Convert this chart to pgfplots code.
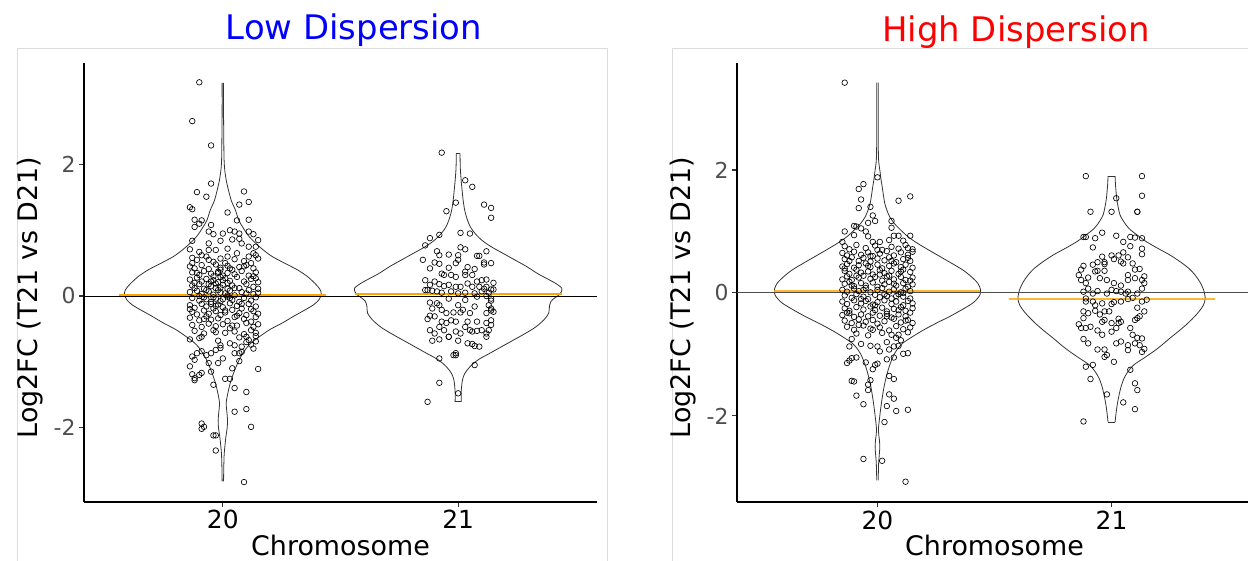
\documentclass[border=0pt]{standalone}
\usepackage{fontspec}
\setmainfont{DejaVu Sans}
\usepackage{pgfplots}
\usepackage{pgfplotstable}
\pgfplotsset{compat=1.18}

\definecolor{orng}{RGB}{255,165,0}
\definecolor{vline}{RGB}{51,51,51}
\definecolor{tickgray}{RGB}{77,77,77}
\definecolor{panelgray}{RGB}{220,220,220}

% violin outlines: y, half width (category units)
\pgfplotstableread{
y w
3.24 0.003
2.80 0.003
2.40 0.004
2.10 0.005
1.92 0.008
1.75 0.015
1.61 0.024
1.45 0.036
1.31 0.053
1.15 0.068
1.05 0.084
0.92 0.108
0.80 0.140
0.70 0.172
0.60 0.210
0.50 0.262
0.40 0.316
0.30 0.358
0.19 0.392
0.10 0.413
0.03 0.418
-0.06 0.408
-0.14 0.383
-0.21 0.350
-0.31 0.300
-0.41 0.253
-0.51 0.200
-0.62 0.155
-0.70 0.125
-0.77 0.105
-0.90 0.080
-1.02 0.063
-1.18 0.045
-1.33 0.031
-1.50 0.020
-1.63 0.014
-1.76 0.017
-1.89 0.020
-2.02 0.018
-2.14 0.013
-2.39 0.006
-2.60 0.004
-2.82 0.003
}\vlowA
\pgfplotstableread{
y w
2.17 0.008
1.95 0.009
1.75 0.013
1.60 0.017
1.46 0.021
1.30 0.028
1.16 0.039
1.05 0.052
0.95 0.072
0.85 0.100
0.75 0.140
0.65 0.190
0.55 0.240
0.45 0.290
0.34 0.338
0.25 0.385
0.19 0.415
0.12 0.440
0.06 0.438
0.015 0.428
-0.03 0.410
-0.08 0.395
-0.15 0.388
-0.26 0.385
-0.36 0.365
-0.47 0.330
-0.57 0.285
-0.67 0.235
-0.77 0.185
-0.87 0.135
-0.97 0.085
-1.08 0.049
-1.18 0.028
-1.28 0.018
-1.45 0.013
-1.61 0.013
}\vlowB
\pgfplotstableread{
y w
3.42 0.003
3.00 0.003
2.60 0.003
2.25 0.004
2.11 0.006
2.00 0.010
1.85 0.015
1.73 0.020
1.60 0.025
1.46 0.031
1.35 0.040
1.24 0.052
1.13 0.072
1.02 0.100
0.91 0.132
0.81 0.170
0.70 0.218
0.59 0.268
0.48 0.318
0.37 0.366
0.26 0.402
0.16 0.428
0.06 0.440
-0.03 0.438
-0.10 0.425
-0.17 0.405
-0.27 0.362
-0.38 0.310
-0.49 0.252
-0.60 0.198
-0.71 0.150
-0.82 0.107
-0.93 0.082
-1.04 0.066
-1.20 0.050
-1.36 0.038
-1.55 0.027
-1.79 0.017
-2.00 0.010
-2.23 0.004
-2.38 0.008
-2.50 0.010
-2.62 0.008
-2.77 0.005
-3.05 0.003
}\vhighA
\pgfplotstableread{
y w
1.90 0.015
1.75 0.017
1.54 0.022
1.40 0.028
1.27 0.036
1.16 0.052
1.05 0.074
0.94 0.110
0.83 0.150
0.72 0.200
0.62 0.248
0.51 0.292
0.40 0.330
0.29 0.357
0.18 0.377
0.05 0.393
-0.09 0.400
-0.20 0.392
-0.30 0.374
-0.41 0.348
-0.52 0.318
-0.63 0.284
-0.74 0.248
-0.85 0.214
-0.95 0.180
-1.06 0.138
-1.17 0.095
-1.28 0.070
-1.39 0.053
-1.52 0.041
-1.66 0.032
-1.80 0.025
-1.93 0.020
-2.10 0.015
}\vhighB

\pgfplotsset{
  panel/.style={
    scale only axis, anchor=south west,
    height=439bp,
    axis x line*=bottom, axis y line*=left,
    axis line style={black, line width=1.6bp},
    xtick={20,21}, xticklabels={20,21},
    ytick={-2,0,2}, yticklabels={-2,0,2},
    tick align=outside, major tick length=5bp,
    tick style={color=vline, line width=1.1bp},
    xticklabel style={font=\fontsize{25}{25}\selectfont, text=black},
    yticklabel style={font=\fontsize{22}{22}\selectfont, text=tickgray},
    xlabel={Chromosome}, ylabel={Log2FC (T21 vs D21)},
    label style={font=\fontsize{27}{27}\selectfont},
    xlabel style={at={(axis description cs:0.5,-0.098)}, anchor=center},
    ylabel style={at={(axis description cs:-0.105,0.466)}, anchor=center},
  },
  violin/.style={vline, line width=0.8bp, smooth, no marks},
  pts/.style={only marks, mark=o, mark size=2.8bp, mark options={line width=0.65bp, black}},
}

\begin{document}
\begin{tikzpicture}[x=1bp,y=1bp]
\useasboundingbox (0,0) rectangle (1248,561);

% panel frames
\draw[panelgray, line width=0.8bp] (17,-5) -- (17,513) -- (607,513) -- (607,-5);
\draw[panelgray, line width=0.8bp] (672,-5) -- (672,513) -- (1260,513);

% ---------- Low dispersion ----------
\begin{axis}[panel, at={(84bp,59bp)}, width=513bp,
  xmin=19.41, xmax=21.59, ymin=-3.133, ymax=3.544]
  \addplot[violin] table[x expr=20+\thisrow{w}, y=y] {\vlowA};
  \addplot[violin] table[x expr=20-\thisrow{w}, y=y] {\vlowA};
  \addplot[violin] table[x expr=21+\thisrow{w}, y=y] {\vlowB};
  \addplot[violin] table[x expr=21-\thisrow{w}, y=y] {\vlowB};
  \addplot[vline, line width=0.8bp] coordinates {(20.987,-1.61) (21.013,-1.61)};
  \addplot[vline, line width=0.8bp] coordinates {(20.992,2.17) (21.008,2.17)};

  % chromosome 20
  \addplot[pts] coordinates {
    (19.90,3.25) (19.87,2.66) (19.95,2.29) (19.95,1.71) (19.89,1.58) (19.93,1.51) (20.09,1.59) (20.07,1.39)
    (20.11,1.43) (19.86,1.35) (19.87,1.32) (20.02,1.27) (20.11,1.16) (20.06,1.15) (19.88,1.16) (19.91,1.15)
    (19.88,1.05) (19.90,1.10) (19.95,1.08) (19.94,0.98) (19.96,0.94) (20.03,1.00) (20.05,0.98) (20.07,0.95)
    (20.11,0.98) (20.13,0.94) (20.15,0.85) (20.00,0.95) (19.87,0.84) (19.94,0.80) (19.99,0.84) (20.04,0.86)
    (20.07,0.87) (20.14,0.75) (19.86,0.71) (19.90,0.67) (19.94,0.70) (19.97,0.70) (20.02,0.72) (20.06,0.65)
    (20.08,0.80) (20.11,0.75) (20.13,0.65) (20.11,0.60) (20.14,0.62)
    (19.87,0.58) (19.89,0.55) (19.93,0.60) (19.96,0.52) (19.99,0.57) (20.01,0.50) (20.05,0.56) (20.09,0.53)
    (20.12,0.50) (20.15,0.57) (19.86,0.45) (19.88,0.42) (19.91,0.47) (19.94,0.41) (19.97,0.48) (19.99,0.43)
    (20.02,0.46) (20.04,0.40) (20.07,0.44) (20.10,0.47) (20.13,0.42) (19.87,0.36) (19.90,0.32) (19.92,0.38)
    (19.95,0.34) (19.98,0.37) (20.00,0.31) (20.02,0.35) (20.05,0.33) (20.08,0.38) (20.11,0.31) (20.14,0.36)
    (19.96,0.30) (19.86,0.25) (19.89,0.28) (19.91,0.22) (19.93,0.26) (19.96,0.24) (19.98,0.21) (20.01,0.27)
    (20.03,0.23) (20.06,0.29) (20.09,0.22) (20.12,0.26) (20.15,0.21) (19.99,0.29) (19.87,0.16) (19.88,0.12)
    (19.90,0.18) (19.92,0.11) (19.95,0.15) (19.97,0.19) (19.99,0.13) (20.00,0.17) (20.02,0.11) (20.04,0.16)
    (20.07,0.12) (20.10,0.18) (20.13,0.14) (20.15,0.11) (19.86,0.06) (19.89,0.08) (19.91,0.03) (19.94,0.07)
    (19.96,0.02) (19.98,0.09) (20.01,0.04) (20.03,0.08) (20.05,0.01) (20.08,0.06) (20.11,0.09) (20.13,0.03)
    (20.15,0.05) (19.87,-0.03) (19.90,-0.07) (19.92,-0.02) (19.95,-0.09) (19.97,-0.04) (19.99,-0.08) (20.02,-0.01)
    (20.04,-0.06) (20.07,-0.09) (20.09,-0.03) (20.12,-0.07) (20.14,-0.02) (19.86,-0.14) (19.88,-0.18) (19.91,-0.12)
    (19.93,-0.16) (19.96,-0.19) (19.98,-0.13) (20.00,-0.17) (20.03,-0.11) (20.06,-0.15) (20.08,-0.19) (20.11,-0.12)
    (20.14,-0.16) (19.87,-0.24) (19.89,-0.28) (19.92,-0.22) (19.94,-0.27) (19.97,-0.23) (19.99,-0.29) (20.01,-0.25)
    (20.04,-0.21) (20.07,-0.26) (20.10,-0.29) (20.13,-0.23) (20.15,-0.27) (19.86,-0.33) (19.90,-0.37) (19.93,-0.31)
    (19.95,-0.36) (19.98,-0.34) (20.02,-0.38) (20.05,-0.32) (20.09,-0.35) (20.12,-0.39) (20.14,-0.32) (19.87,-0.44)
    (19.91,-0.47) (19.94,-0.42) (19.97,-0.46) (20.00,-0.43) (20.03,-0.49) (20.06,-0.45) (20.10,-0.41) (20.13,-0.47)
    (20.15,-0.43) (19.88,-0.53) (19.92,-0.57) (19.96,-0.52) (20.01,-0.56) (20.05,-0.54) (20.09,-0.58) (20.12,-0.52)
    (20.14,-0.56) (19.90,-0.64) (19.98,-0.68) (20.07,-0.63) (20.11,-0.67) (20.14,-0.61) (20.10,-0.70)
    (19.99,0.05) (20.00,-0.05) (19.97,0.12) (20.02,0.20) (19.95,-0.12) (20.01,-0.22) (19.98,0.35) (20.03,0.42)
    (19.94,0.18) (19.96,-0.02) (20.02,0.01) (19.93,0.09)
    (19.88,0.20) (19.90,0.00) (19.93,-0.05) (19.95,0.22) (19.97,-0.15) (20.00,0.24) (20.03,-0.03) (20.05,0.12)
    (20.08,-0.12) (20.10,0.04) (20.12,-0.20) (20.14,0.27) (19.86,-0.20) (19.89,0.35) (19.92,-0.35) (19.99,0.40)
    (20.06,-0.30) (20.09,0.45) (19.94,0.55) (20.04,-0.45) (19.91,0.62) (20.10,-0.62) (19.97,-0.55) (20.02,0.60)
    (19.87,0.50) (20.13,0.30)
    (19.86,-0.66) (19.91,-0.62) (19.87,-0.92) (19.88,-0.97) (19.89,-0.87) (19.91,-0.84) (19.86,-1.07) (19.87,-1.19)
    (19.88,-1.28) (19.88,-1.25) (19.90,-1.20) (19.91,-1.17) (19.93,-0.90) (19.95,-0.87) (19.97,-0.82) (19.99,-0.79)
    (19.94,-1.02) (19.95,-1.15) (19.98,-1.02) (20.00,-0.95) (20.01,-1.26) (20.03,-1.26) (19.99,-0.75) (20.03,-0.72)
    (20.05,-0.75) (20.08,-0.77) (20.05,-0.87) (20.07,-0.87) (20.08,-0.85) (20.07,-0.99) (20.04,-1.10) (20.15,-1.11)
    (19.96,-1.35) (20.05,-1.40) (20.10,-1.46) (20.05,-1.76) (20.10,-1.72) (20.12,-1.99) (19.91,-1.94) (19.91,-2.02)
    (19.92,-1.99) (19.96,-2.12) (19.97,-2.12) (19.97,-2.35) (20.09,-2.83) (20.13,-0.80) (20.12,-0.74) (20.14,-0.69)
  };

  % chromosome 21
  \addplot[pts] coordinates {
    (20.93,2.18) (21.03,1.76) (21.06,1.66) (20.99,1.42) (21.11,1.39) (21.14,1.34) (21.14,1.19) (20.95,1.29)
    (20.88,0.88) (20.92,0.93) (20.86,0.77) (21.01,0.96) (21.05,0.95) (20.91,0.68) (20.92,0.62) (20.96,0.63)
    (21.01,0.74) (21.03,0.71) (21.00,0.62) (20.85,0.55) (20.90,0.51) (20.92,0.49) (20.96,0.43) (20.99,0.50)
    (21.00,0.55) (21.03,0.37) (21.04,0.44) (21.07,0.41) (21.08,0.61) (21.09,0.61) (21.12,0.68) (21.14,0.50)
    (21.11,0.51) (21.11,0.48) (20.88,0.42) (20.93,0.34) (20.94,0.32) (20.97,0.32) (20.99,0.29) (21.03,0.32)
    (21.06,0.32) (21.08,0.22) (21.10,0.24) (21.12,0.25) (21.15,0.20) (21.12,0.14) (20.86,0.24) (20.88,0.17)
    (20.90,0.22) (20.92,0.18) (20.94,0.15) (20.96,0.17) (20.99,0.14) (21.01,0.14) (21.04,0.19) (21.06,0.14)
    (21.09,0.14) (21.11,0.11) (21.14,0.10) (21.15,0.10) (20.86,0.09) (20.87,0.09) (20.89,0.08) (20.91,0.07)
    (20.93,0.05) (20.97,0.07) (21.00,0.04) (21.03,0.05) (21.07,0.04) (21.10,0.07) (21.13,0.05)
    (20.96,-0.04) (21.03,-0.06) (21.08,-0.01) (21.12,0.00) (21.14,-0.04) (21.14,-0.07) (21.13,-0.14) (21.14,-0.19)
    (20.88,-0.10) (20.89,-0.19) (20.91,-0.11) (20.92,-0.14) (20.93,-0.21) (20.95,-0.26) (20.98,-0.25) (21.00,-0.14)
    (21.02,-0.21) (21.05,-0.26) (21.07,-0.16) (21.12,-0.26) (21.15,-0.24) (20.87,-0.35) (20.88,-0.30) (20.90,-0.31)
    (20.93,-0.39) (20.95,-0.41) (20.97,-0.37) (20.99,-0.39) (21.01,-0.25) (21.04,-0.39) (21.08,-0.39) (21.12,-0.41)
    (21.14,-0.37) (21.14,-0.22) (20.88,-0.52) (20.90,-0.57) (20.92,-0.47) (20.94,-0.52) (20.96,-0.62) (20.99,-0.54)
    (21.01,-0.57) (21.03,-0.47) (21.05,-0.52) (21.06,-0.54) (21.08,-0.53) (21.10,-0.52) (21.12,-0.57) (21.14,-0.44)
    (21.13,-0.52) (20.89,-0.68) (20.92,-0.66) (20.96,-0.62) (21.00,-0.68) (21.04,-0.72) (21.06,-0.73) (21.07,-0.76)
    (21.09,-0.77) (21.12,-0.62) (20.98,-0.90) (20.99,-0.90) (20.99,-0.87) (20.92,-0.95) (21.07,-1.05) (20.92,-1.32)
    (21.00,-1.48) (20.87,-1.61)
  };

  \addplot[black, line width=0.9bp] coordinates {(19.41,0) (21.59,0)};
  \addplot[orng, line width=1.8bp] coordinates {(19.56,0.015) (20.44,0.015)};
  \addplot[orng, line width=1.8bp] coordinates {(20.56,0.03) (21.44,0.03)};
\end{axis}

% ---------- High dispersion ----------
\begin{axis}[panel, at={(737bp,59bp)}, width=515bp,
  xmin=19.4, xmax=21.6, ymin=-3.40, ymax=3.74]
  \addplot[violin] table[x expr=20+\thisrow{w}, y=y] {\vhighA};
  \addplot[violin] table[x expr=20-\thisrow{w}, y=y] {\vhighA};
  \addplot[violin] table[x expr=21+\thisrow{w}, y=y] {\vhighB};
  \addplot[violin] table[x expr=21-\thisrow{w}, y=y] {\vhighB};
  \addplot[vline, line width=0.8bp] coordinates {(20.985,1.90) (21.015,1.90)};
  \addplot[vline, line width=0.8bp] coordinates {(20.985,-2.10) (21.015,-2.10)};

  % chromosome 20
  \addplot[pts] coordinates {
    (19.86,3.42) (20.00,1.88) (19.92,1.69) (19.94,1.77) (19.93,1.52) (19.92,1.38) (19.97,1.40) (20.09,1.50)
    (20.14,1.57) (19.98,1.26) (19.96,1.14) (19.99,1.17) (19.90,1.09) (19.91,1.08) (19.93,1.05) (20.06,1.17)
    (20.06,1.06) (19.86,1.00) (19.90,0.94) (19.85,0.83) (20.07,0.93) (20.09,0.93) (20.14,0.93) (20.11,0.85)
    (20.13,0.73) (20.05,0.86) (20.01,0.83) (19.98,0.83) (19.96,0.92) (19.95,1.00)
    (19.86,0.76) (19.88,0.71) (19.91,0.78) (19.95,0.73) (19.99,0.77) (20.02,0.70) (20.06,0.75) (20.09,0.72)
    (20.12,0.78) (20.15,0.71) (19.85,0.65) (19.87,0.61) (19.90,0.67) (19.93,0.62) (19.96,0.66) (19.98,0.60)
    (20.01,0.64) (20.04,0.68) (20.07,0.61) (20.10,0.66) (20.13,0.62) (20.15,0.67) (19.86,0.55) (19.89,0.58)
    (19.92,0.52) (19.94,0.57) (19.97,0.51) (20.00,0.56) (20.03,0.53) (20.05,0.58) (20.08,0.50) (20.11,0.55)
    (20.14,0.52) (19.85,0.43) (19.87,0.47) (19.90,0.41) (19.92,0.45) (19.95,0.48) (19.97,0.42) (20.00,0.46)
    (20.02,0.40) (20.05,0.44) (20.07,0.48) (20.10,0.42) (20.12,0.46) (20.15,0.41) (19.86,0.36) (19.88,0.31)
    (19.91,0.38) (19.93,0.33) (19.96,0.35) (19.98,0.30) (20.01,0.37) (20.03,0.32) (20.06,0.36) (20.09,0.31)
    (20.11,0.38) (20.14,0.34) (19.85,0.22) (19.87,0.27) (19.89,0.21) (19.92,0.25) (19.94,0.28) (19.97,0.23)
    (19.99,0.26) (20.02,0.20) (20.04,0.27) (20.07,0.22) (20.10,0.26) (20.12,0.21) (20.15,0.25) (19.86,0.15)
    (19.88,0.18) (19.90,0.11) (19.93,0.16) (19.95,0.12) (19.98,0.17) (20.00,0.10) (20.03,0.14) (20.05,0.18)
    (20.08,0.12) (20.11,0.16) (20.13,0.10) (20.15,0.14) (19.85,0.05) (19.87,0.02) (19.90,0.07) (19.92,0.03)
    (19.95,0.08) (19.97,0.01) (20.00,0.05) (20.02,0.08) (20.05,0.02) (20.07,0.06) (20.10,0.01) (20.12,0.07)
    (20.14,0.03) (19.86,-0.04) (19.89,-0.08) (19.91,-0.02) (19.94,-0.06) (19.96,-0.10) (19.99,-0.03) (20.01,-0.07)
    (20.04,-0.05) (20.06,-0.09) (20.09,-0.02) (20.11,-0.06) (20.14,-0.09) (19.85,-0.14) (19.87,-0.18) (19.90,-0.12)
    (19.93,-0.17) (19.95,-0.13) (19.98,-0.19) (20.00,-0.15) (20.03,-0.12) (20.06,-0.18) (20.08,-0.14) (20.11,-0.20)
    (20.13,-0.13) (20.15,-0.17) (19.86,-0.25) (19.88,-0.29) (19.91,-0.23) (19.94,-0.27) (19.97,-0.22) (19.99,-0.28)
    (20.02,-0.24) (20.04,-0.30) (20.07,-0.26) (20.10,-0.23) (20.12,-0.29) (20.15,-0.25) (19.85,-0.36) (19.88,-0.33)
    (19.90,-0.39) (19.93,-0.35) (19.96,-0.38) (19.98,-0.32) (20.01,-0.37) (20.04,-0.34) (20.06,-0.40) (20.09,-0.35)
    (20.12,-0.38) (20.14,-0.32) (19.86,-0.45) (19.89,-0.49) (19.92,-0.43) (19.95,-0.47) (19.98,-0.44) (20.00,-0.50)
    (20.03,-0.46) (20.07,-0.42) (20.10,-0.48) (20.13,-0.44) (20.15,-0.49) (19.87,-0.55) (19.90,-0.60) (19.94,-0.53)
    (19.97,-0.58) (20.01,-0.56) (20.05,-0.61) (20.08,-0.54) (20.11,-0.59) (20.14,-0.56) (19.91,-0.66) (19.96,-0.69)
    (20.02,-0.65) (20.09,-0.68) (20.13,-0.64)
    (19.88,0.52) (19.91,0.28) (19.94,0.05) (19.97,0.60) (19.99,-0.20) (20.01,0.30) (20.04,-0.38) (20.06,0.52)
    (20.08,-0.05) (20.10,0.35) (20.12,-0.45) (20.14,0.20) (19.87,-0.32) (19.89,0.12) (19.92,-0.52) (19.96,0.44)
    (20.00,0.70) (20.03,-0.02) (20.05,0.28) (20.09,-0.28) (20.13,0.57) (19.86,0.40) (19.93,-0.10) (20.07,0.15)
    (19.98,-0.60) (20.11,0.00)
    (19.89,-0.75) (19.88,-0.87) (19.93,-0.83) (19.97,-0.86) (20.00,-0.87) (20.01,-0.95) (20.04,-0.80) (20.05,-0.92)
    (20.07,-0.87) (20.09,-0.86) (20.10,-0.77) (20.11,-0.99) (20.13,-0.98) (20.08,-0.73) (20.06,-0.68) (19.87,-1.14)
    (19.88,-1.10) (19.89,-1.06) (19.91,-1.05) (19.95,-1.13) (19.98,-1.24) (19.99,-1.17) (20.00,-1.15) (20.04,-1.08)
    (20.07,-1.05) (19.89,-1.43) (19.90,-1.44) (19.96,-1.49) (19.97,-1.42) (19.96,-1.58) (20.05,-1.35) (20.07,-1.40)
    (19.91,-1.67) (19.94,-1.81) (20.05,-1.65) (20.07,-1.72) (20.04,-1.84) (20.08,-1.92) (20.13,-1.90) (20.03,-2.10)
    (19.94,-2.70) (20.02,-2.73) (20.12,-3.07)
  };

  % chromosome 21
  \addplot[pts] coordinates {
    (20.89,1.90) (21.13,1.90) (21.13,1.58) (21.02,1.54) (20.91,1.32) (21.00,1.32) (21.11,1.32) (21.11,1.32)
    (20.88,0.91) (20.89,0.91) (20.93,0.89) (20.96,0.98) (21.02,0.93) (21.05,0.83) (21.08,0.76) (21.08,0.91)
    (21.10,0.90) (21.13,0.89) (20.92,0.74) (21.13,0.72) (21.13,0.63)
    (20.96,0.59) (21.00,0.61) (21.03,0.61) (21.05,0.66) (21.07,0.58) (20.94,0.50) (20.97,0.50) (21.01,0.55)
    (21.04,0.51) (21.05,0.48) (21.09,0.48) (21.10,0.38) (21.12,0.39) (20.87,0.38) (20.88,0.44) (20.92,0.46)
    (20.94,0.36) (20.97,0.36) (20.97,0.47) (20.86,0.29) (20.87,0.21) (20.89,0.16) (20.90,0.25) (20.93,0.35)
    (20.95,0.24) (20.98,0.21) (21.01,0.16) (21.04,0.12) (21.07,0.21) (21.07,0.29) (21.10,0.24) (21.13,0.21)
    (21.14,0.27) (21.14,0.16) (21.13,0.07) (20.88,0.02) (20.90,0.07) (20.92,-0.01) (20.94,0.03) (20.98,-0.01)
    (21.00,0.05) (21.02,0.03) (21.04,0.02) (21.06,-0.01) (21.07,0.02) (21.11,-0.01)
    (20.89,-0.09) (20.89,-0.14) (20.92,-0.14) (20.93,-0.20) (20.96,-0.17) (21.00,-0.18) (21.01,-0.15) (21.04,-0.14)
    (21.07,-0.10) (21.09,-0.08) (21.11,-0.24) (21.14,-0.30) (21.13,-0.14) (21.15,-0.11) (20.88,-0.30) (20.90,-0.33)
    (20.88,-0.41) (20.93,-0.29) (20.95,-0.35) (20.97,-0.30) (20.99,-0.30) (20.96,-0.47) (20.97,-0.44) (21.00,-0.49)
    (21.03,-0.42) (21.04,-0.47) (21.10,-0.44) (21.11,-0.41) (21.12,-0.38) (20.86,-0.51) (20.87,-0.57) (20.89,-0.57)
    (20.91,-0.55) (20.94,-0.61) (20.96,-0.68) (21.00,-0.63) (21.02,-0.57) (21.03,-0.49) (21.08,-0.57) (21.09,-0.68)
    (21.11,-0.73) (21.13,-0.74) (20.88,-0.75) (20.90,-0.82) (20.94,-0.92) (20.97,-0.92) (20.98,-1.01) (20.97,-1.04)
    (21.01,-1.12) (21.02,-0.82) (21.04,-0.79) (21.07,-0.85) (21.10,-0.82) (21.12,-0.85) (21.13,-0.96) (21.14,-0.91)
    (21.07,-0.93) (20.89,-1.20) (20.92,-1.17) (20.91,-1.40) (20.98,-1.65) (21.05,-1.78) (21.08,-1.25) (21.10,-1.47)
    (21.11,-1.58) (21.10,-1.89) (20.88,-2.09)
  };

  \addplot[black!70, line width=1.1bp] coordinates {(19.4,0) (21.6,0)};
  \addplot[orng, opacity=0.8, line width=2.2bp] coordinates {(19.56,0.027) (20.44,0.027)};
  \addplot[orng, opacity=0.8, line width=2.2bp] coordinates {(20.56,-0.098) (21.44,-0.098)};
\end{axis}

\node[anchor=base, text=blue, font=\fontsize{34}{34}\selectfont] at (354,521) {Low Dispersion};
\node[anchor=base, text=red, font=\fontsize{34}{34}\selectfont] at (1016,519) {High Dispersion};
\end{tikzpicture}
\end{document}
